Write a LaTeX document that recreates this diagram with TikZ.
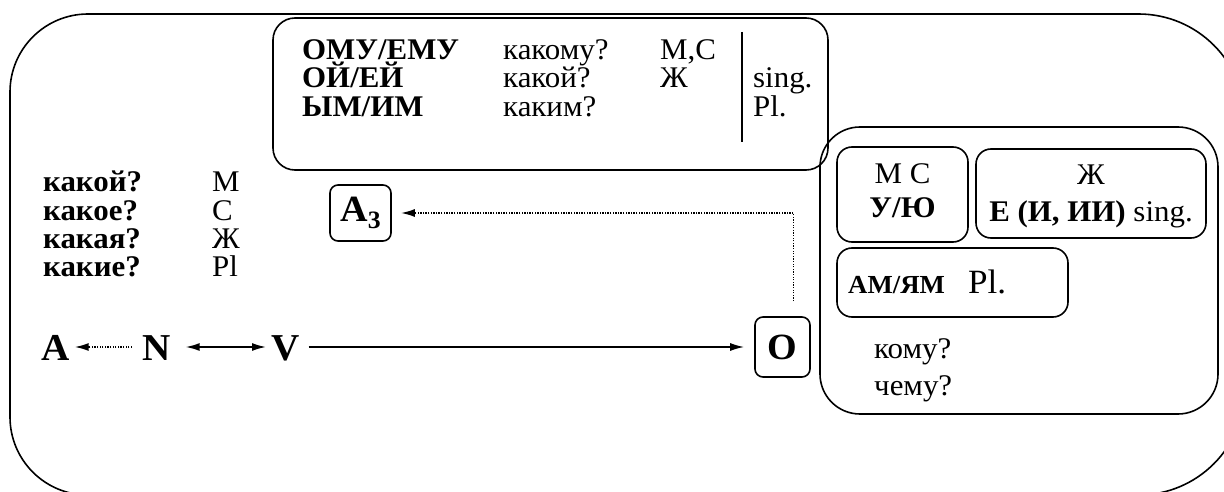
\documentclass[tikz,border=0pt]{standalone}
\usepackage{fontspec}
\setmainfont[FakeStretch=1.03]{Liberation Serif}
\usetikzlibrary{arrows.meta}
\begin{document}
\begin{tikzpicture}[x=1pt,y=-1pt,
  txt/.style={inner sep=0pt, anchor=base west, font=\fontsize{30}{30}\selectfont},
  btxt/.style={inner sep=0pt, anchor=base west, font=\fontsize{30}{30}\selectfont\bfseries},
  ctxt/.style={inner sep=0pt, anchor=base, font=\fontsize{30}{30}\selectfont},
  big/.style={inner sep=0pt, anchor=base west, font=\fontsize{38}{40}\selectfont\bfseries},
  frame/.style={draw, line width=1.6pt, inner sep=0pt},
  tip/.style={-{Latex[length=14pt,width=8pt]}},
  twotips/.style={{Latex[length=14pt,width=8pt]}-{Latex[length=14pt,width=8pt]}},
  link/.style={line width=1.6pt},
  dots/.style={line width=1.8pt, dash pattern=on 1.3pt off 1.3pt}
]
\fill[white] (0,0) rectangle (1224,492);
\useasboundingbox (0,0) rectangle (1224,492);
\begin{scope}
\clip (0,0) rectangle (1224,492);
% outer frame, its right and bottom sides running off the page
\draw[line width=1.6pt] (88,14) -- (1138.5,14)
  arc[start angle=90, end angle=0, radius=106.5pt] -- (1245,388.5)
  arc[start angle=0, end angle=-90, radius=106.5pt] -- (88,495)
  arc[start angle=-90, end angle=-180, radius=78pt] -- (10,92)
  arc[start angle=180, end angle=90, radius=78pt] -- cycle;
\end{scope}

% adjective endings box
\node[frame, rounded corners=22pt, minimum width=555pt, minimum height=152pt] (endings) at (550.5,94) {};
\node[btxt] (e1) at (302,60) {ОМУ/ЕМУ};
\node[btxt] (e2) at (302,88) {ОЙ/ЕЙ};
\node[btxt] (e3) at (302,117) {ЫМ/ИМ};
\node[txt] (q1) at (503,60) {какому?};
\node[txt] (q2) at (503,88) {какой?};
\node[txt] (q3) at (503,117) {каким?};
\node[txt] (g1) at (660,60) {М,С};
\node[txt] (g2) at (660,88) {Ж};
\node[txt] (n1) at (753,88) {sing.};
\node[txt] (n2) at (753,117) {Pl.};
\coordinate (bartop) at (742,32);
\coordinate (barbot) at (742,142);
\draw[line width=1.6pt] (bartop) -- (barbot);

% adjective questions
\node[btxt] (k1) at (43,192) {какой?};
\node[btxt] (k2) at (43,220) {какое?};
\node[btxt] (k3) at (43,248) {какая?};
\node[btxt] (k4) at (43,276) {какие?};
\node[txt] (r1) at (212,192) {М};
\node[txt] (r2) at (212,220) {С};
\node[txt] (r3) at (212,248) {Ж};
\node[txt] (r4) at (212,276) {Pl};

% A3 and O boxes
\node[frame, rounded corners=8pt, minimum width=61pt, minimum height=56pt,
      font=\fontsize{37}{37}\selectfont\bfseries] (A3) at (360.5,213)
      {A\raisebox{-0.2em}{\fontsize{25}{25}\selectfont 3}};
\node[frame, rounded corners=8pt, minimum width=55pt, minimum height=60pt,
      font=\fontsize{37}{37}\selectfont\bfseries] (O) at (782.5,347) {O};

% main row
\node[big] (A) at (41,360) {A};
\node[big] (N) at (142,360) {N};
\node[big] (V) at (271,360) {V};
\coordinate (row) at (0,347);

\draw[dots, tip] ([xshift=-10pt]N.west |- row) -- ([xshift=5pt]A.east |- row);
\draw[link, twotips] ([xshift=15pt]N.east |- row) -- ([xshift=-5pt]V.west |- row);
\draw[link, tip] ([xshift=9pt]V.east |- row) -- ([xshift=-10pt]O.west |- row);
\coordinate (Otop) at ([xshift=11pt,yshift=15pt]O.north);
\draw[dots, tip, shorten >=9pt] (Otop) |- (A3.east);

% dative endings box
\node[frame, rounded corners=40pt, minimum width=398pt, minimum height=287pt] (dat) at (1019,270.5) {};
\node[frame, rounded corners=15pt, minimum width=131pt, minimum height=95pt] (ms) at (902.5,194.5) {};
\node[ctxt] (msg) at (902.5,183) {М С};
\node[ctxt, font=\fontsize{30}{30}\selectfont\bfseries] (mse) at (902.5,218) {У/Ю};
\node[frame, rounded corners=15pt, minimum width=230pt, minimum height=89pt] (f) at (1091,193.5) {};
\node[ctxt] (fg) at (1091,185) {Ж};
\node[ctxt] (fe) at (1091,222) {\textbf{Е (И, ИИ)} sing.};
\node[frame, rounded corners=15pt, minimum width=231pt, minimum height=69pt] (pl) at (952.5,282.5) {};
\node[inner sep=0pt, anchor=base west, font=\fontsize{26}{26}\selectfont\bfseries] (ple) at (848,293) {АМ/ЯМ};
\node[inner sep=0pt, anchor=base west, font=\fontsize{34}{34}\selectfont] (plp) at (968,293) {Pl.};
\node[txt] (w1) at (874,358) {кому?};
\node[txt] (w2) at (874,395) {чему?};
\end{tikzpicture}
\end{document}
